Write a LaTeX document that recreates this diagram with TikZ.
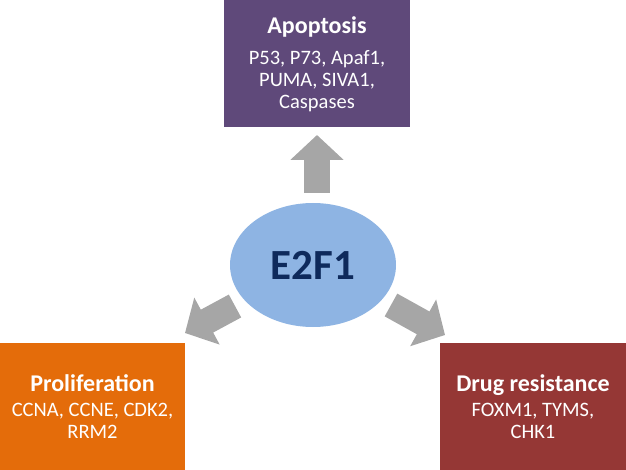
\documentclass[tikz,border=0pt]{standalone}
\usepackage{fontspec}
\setmainfont{Carlito}
\usetikzlibrary{arrows.meta,shapes.geometric}
\definecolor{apopcol}{HTML}{5F497A}
\definecolor{prolcol}{HTML}{E46C0A}
\definecolor{drugcol}{HTML}{953735}
\definecolor{e2fcol}{HTML}{8EB4E3}
\definecolor{e2ftext}{HTML}{0E2A5C}
\definecolor{arrowgray}{HTML}{A6A6A6}

\begin{document}
\begin{tikzpicture}[x=1pt,y=-1pt,
  box/.style={rectangle,inner sep=0pt,minimum width=186pt,minimum height=127pt,
    text=white,align=center,font=\fontsize{20.5}{21.7}\selectfont},
  fat/.style={line width=26pt,draw=arrowgray,-{Triangle[width=52pt,length=25pt]}}]
\useasboundingbox (0,0) rectangle (626,470);
% boxes
\node (apop) at (317,64) [box,fill=apopcol] {{\bfseries\fontsize{24}{26}\selectfont Apoptosis}\\[10pt]
  P53, P73, Apaf1,\\ PUMA, SIVA1,\\ Caspases};
\node (prol) at (92.5,406.5) [box,minimum width=185pt,fill=prolcol] {{\bfseries\fontsize{24}{26}\selectfont Proliferation}\\[3pt]
  CCNA, CCNE, CDK2,\\ RRM2};
\node (drug) at (533,406.5) [box,fill=drugcol] {{\bfseries\fontsize{24}{26}\selectfont Drug resistance}\\[3pt]
  FOXM1, TYMS,\\ CHK1};
% centre
\node (e2f1) at (313,265) [ellipse,inner sep=0pt,minimum width=166pt,minimum height=124pt,fill=e2fcol,
  text=e2ftext,font=\bfseries\fontsize{43}{48}\selectfont] {E2F1};
% arrow ends
\coordinate (upS) at (317,193);
\coordinate (upT) at (317,135);
\coordinate (blS) at (235,306);
\coordinate (blT) at (185,333);
\coordinate (brS) at (391,305);
\coordinate (brT) at (445,335);
\draw[fat] (upS) -- (upT);
\draw[fat] (blS) -- (blT);
\draw[fat] (brS) -- (brT);
\end{tikzpicture}
\end{document}
